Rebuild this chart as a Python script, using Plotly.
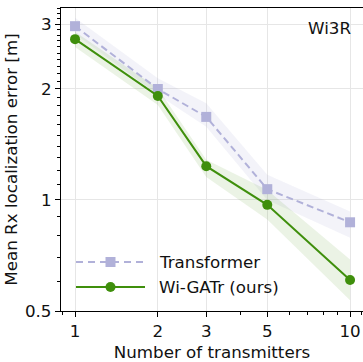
import plotly.graph_objects as go

# ---- data ----
n_tx = [1, 2, 3, 5, 10]
transformer_mean = [2.96, 2.00, 1.68, 1.07, 0.87]
transformer_low = [2.82, 1.93, 1.58, 1.00, 0.79]
transformer_high = [3.12, 2.14, 1.83, 1.17, 0.93]
wigatr_mean = [2.73, 1.915, 1.235, 0.97, 0.607]
wigatr_low = [2.60, 1.81, 1.155, 0.885, 0.535]
wigatr_high = [2.86, 2.01, 1.285, 1.065, 0.69]

x_ticks = [1, 2, 3, 5, 10]
x_ticklabels = ["1", "2", "3", "5", "10"]
y_ticks = [0.5, 1, 2, 3]
y_ticklabels = ["0.5", "1", "2", "3"]
x_minor = [0.9, 4, 6, 7, 8, 9, 11]
y_minor = [0.6, 0.7, 0.8, 0.9, 1.1, 1.2, 1.3, 1.4, 1.5, 1.6, 1.7, 1.8, 1.9,
           2.1, 2.2, 2.3, 2.4, 2.5, 2.6, 2.7, 2.8, 2.9, 3.1, 3.2, 3.3]

series_names = ["Transformer", "Wi-GATr (ours)"]
purple = "#b1b1d9"
green = "#3f8f0c"
purple_band = "rgba(177,177,217,0.15)"
green_band = "rgba(90,160,40,0.12)"
FONT = "DejaVu Sans"
FS = 16.7
TXT = "#111111"

fig = go.Figure()

# bands
fig.add_trace(go.Scatter(x=n_tx + n_tx[::-1], y=transformer_high + transformer_low[::-1],
                         fill="toself", fillcolor=purple_band, line=dict(width=0),
                         mode="lines", hoverinfo="skip", showlegend=False))
fig.add_trace(go.Scatter(x=n_tx + n_tx[::-1], y=wigatr_high + wigatr_low[::-1],
                         fill="toself", fillcolor=green_band, line=dict(width=0),
                         mode="lines", hoverinfo="skip", showlegend=False))
# lines
fig.add_trace(go.Scatter(x=n_tx, y=transformer_mean, mode="lines+markers",
                         name=series_names[0],
                         line=dict(color=purple, width=2, dash="7px,4px"),
                         marker=dict(symbol="square", size=10, color=purple),
                         showlegend=False))
fig.add_trace(go.Scatter(x=n_tx, y=wigatr_mean, mode="lines+markers",
                         name=series_names[1],
                         line=dict(color=green, width=2),
                         marker=dict(symbol="circle", size=10, color=green),
                         showlegend=False))

# custom legend (paper coordinates)
W, H, L, T = 302.0, 303.0, 61.0, 8.0
def px(xp):
    return (xp - L) / W
def py(yp):
    return (T + H - yp) / H

leg_rows = [(262, purple, "square", "7px,5px"), (287, green, "circle", "solid")]
for (ypix, col, sym, dash), name in zip(leg_rows, series_names):
    fig.add_shape(type="line", xref="paper", yref="paper",
                  x0=px(76), x1=px(145), y0=py(ypix), y1=py(ypix),
                  line=dict(color=col, width=2, dash=dash))
    fig.add_shape(type="rect" if sym == "square" else "circle",
                  xref="paper", yref="paper",
                  xsizemode="pixel", ysizemode="pixel",
                  xanchor=px(110.5), yanchor=py(ypix),
                  x0=-5, x1=5, y0=-5, y1=5,
                  fillcolor=col, line=dict(width=0))
    fig.add_annotation(xref="paper", yref="paper", x=px(157), y=py(ypix),
                       text=name, showarrow=False, xanchor="left", yanchor="middle",
                       font=dict(family=FONT, size=FS, color=TXT))

fig.add_annotation(xref="paper", yref="paper", x=px(353), y=py(28),
                   text="Wi3R", showarrow=False, xanchor="right", yanchor="middle",
                   font=dict(family=FONT, size=FS, color=TXT))

axis_common = dict(showline=True, linecolor="black", linewidth=1.3,
                   ticks="outside", ticklen=5, tickwidth=1.2, tickcolor="black",
                   showgrid=True, gridcolor="#e6e6e6", gridwidth=1, zeroline=False,
                   tickfont=dict(family=FONT, size=FS, color=TXT))

fig.update_xaxes(type="log", range=[-0.051, 1.047], tickmode="array",
                 tickvals=x_ticks, ticktext=x_ticklabels, mirror=True,
                 minor=dict(tickmode="array", tickvals=x_minor, ticks="outside",
                            ticklen=3, tickwidth=1, tickcolor="black", showgrid=False),
                 title=dict(text="Number of transmitters", standoff=10,
                            font=dict(family=FONT, size=FS, color=TXT)),
                 **axis_common)
fig.update_yaxes(type="log", range=[-0.30103, 0.5206], tickmode="array",
                 tickvals=y_ticks, ticktext=y_ticklabels, mirror=False,
                 minor=dict(tickmode="array", tickvals=y_minor, ticks="outside",
                            ticklen=3, tickwidth=1, tickcolor="black", showgrid=False),
                 title=dict(text="Mean Rx localization error [m]", standoff=3,
                            font=dict(family=FONT, size=FS, color=TXT)),
                 **axis_common)

fig.update_layout(width=363, height=362, margin=dict(l=61, r=0, t=8, b=51),
                  plot_bgcolor="white", paper_bgcolor="white",
                  font=dict(family=FONT, size=FS, color=TXT))

fig.write_html("out.html")
